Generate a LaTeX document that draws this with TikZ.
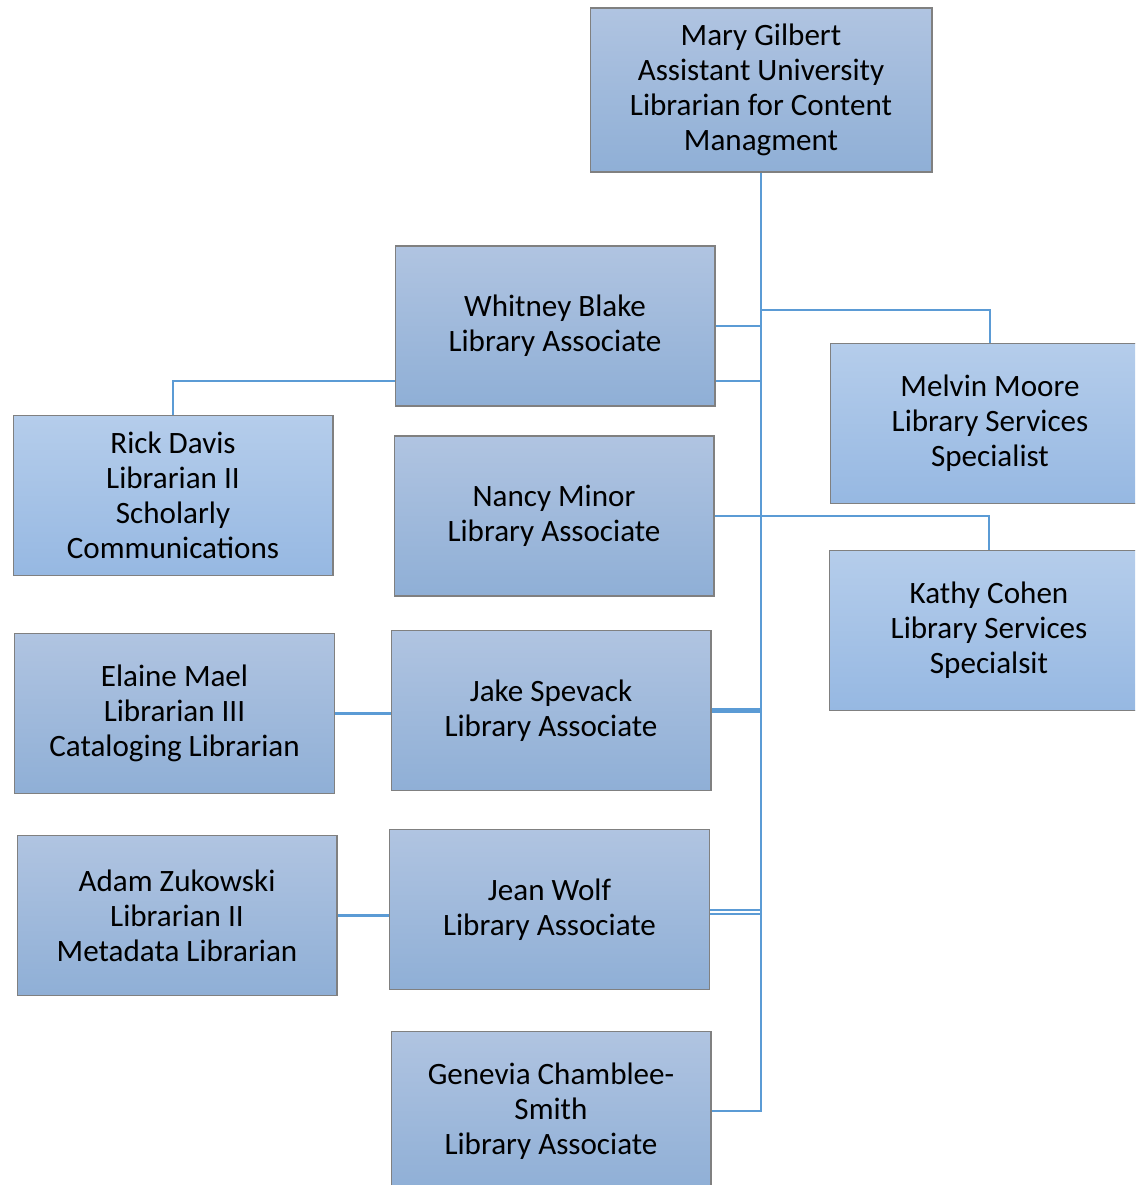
\documentclass[tikz,border=0pt]{standalone}
\usepackage{fontspec}
\setmainfont{Carlito}

\definecolor{linkblue}{HTML}{5B9BD5}
\definecolor{boxtop}{HTML}{B0C4E1}
\definecolor{boxbot}{HTML}{8FAFD6}
\definecolor{lighttop}{HTML}{B5CDEB}
\definecolor{lightbot}{HTML}{96B8E2}

\tikzset{
  orgbox/.style={draw=gray,line width=0.6pt,top color=boxtop,bottom color=boxbot,
    minimum width=6.4cm,minimum height=3.2cm,inner sep=0pt,align=center,
    font=\fontsize{17.7}{19.9}\selectfont},
  lightbox/.style={top color=lighttop,bottom color=lightbot},
  link/.style={draw=linkblue,line width=1.5pt}
}

\begin{document}
\begin{tikzpicture}[x=0.02cm,y=-0.02cm]

        \clip (0,0) rectangle (1135,1185);

        \begin{scope}[every node/.style={orgbox}]
          \node[minimum width=6.84cm,minimum height=3.28cm] (mary) at (761,90)
            {Mary Gilbert\\Assistant University\\Librarian for Content\\Managment};
          \node (whitney) at (555,326)   {Whitney Blake\\Library Associate};
          \node[lightbox] (melvin) at (990,423.5) {Melvin Moore\\Library Services\\Specialist};
          \node[lightbox] (rick) at (173,495.5) {Rick Davis\\Librarian II\\Scholarly\\Communications};
          \node (nancy) at (554,516)     {Nancy Minor\\Library Associate};
          \node[lightbox] (kathy) at (989,630.5) {Kathy Cohen\\Library Services\\Specialsit};
          \node (elaine) at (174.5,713.5) {Elaine Mael\\Librarian III\\Cataloging Librarian};
          \node (jake) at (551,710.5)    {Jake Spevack\\Library Associate};
          \node (adam) at (177,915.5)    {Adam Zukowski\\Librarian II\\Metadata Librarian};
          \node (jean) at (549.5,909.5)  {Jean Wolf\\Library Associate};
          \node (genevia) at (551,1111)  {Genevia Chamblee-\\Smith\\Library Associate};
        \end{scope}

        \coordinate (split) at (761,310);
        \coordinate (wlow) at ([yshift=-1.1cm]whitney.east);
        \coordinate (wlowleft) at ([yshift=-1.1cm]whitney.west);

        \begin{scope}[every path/.style={link}]
          \path (jean.east) ++(0,2.5) coordinate (jeanmid);
          \draw[double=white,double distance=1.1pt,line width=1.2pt]
            (jeanmid) -- (jeanmid -| mary.south);
          \draw (mary.south) |- (genevia.east);
          \draw (split) -| (melvin.north);
          \draw (whitney.east) -- (whitney.east -| mary.south);
          \draw (wlow) -- (wlow -| mary.south);
          \draw (rick.north) |- (wlowleft);
          \draw (nancy.east) -| (kathy.north);
          \draw[line width=2.4pt] (jake.east) -- (jake.east -| mary.south);
          \draw (elaine.east) -- (elaine.east -| jake.west);
          \draw (adam.east) -- (adam.east -| jean.west);
        \end{scope}

      \end{tikzpicture}
\end{document}
